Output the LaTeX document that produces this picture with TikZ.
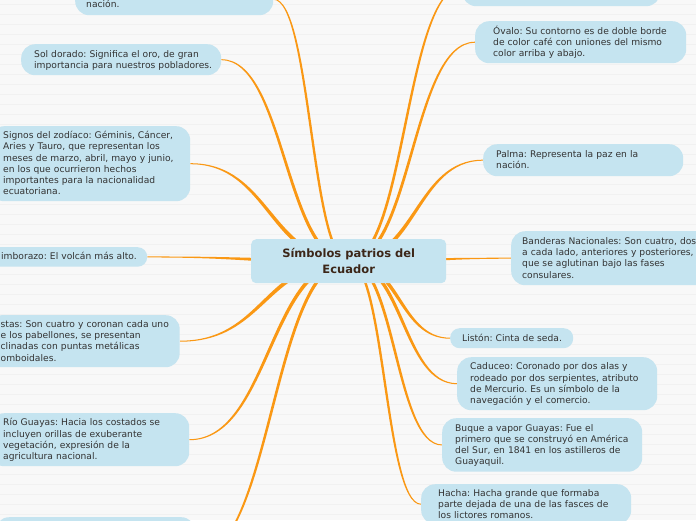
\documentclass[tikz,border=0pt]{standalone}
\usepackage{fontspec}
\setmainfont{DejaVu Sans}
\usetikzlibrary{calc}
\frenchspacing
\definecolor{bubble}{RGB}{197,228,240}
\definecolor{paper}{RGB}{248,248,248}
\definecolor{stripe}{RGB}{241,241,241}
\definecolor{orangeline}{RGB}{250,152,20}
\definecolor{txt}{RGB}{51,51,51}
\definecolor{titletxt}{RGB}{60,38,24}
\pgfdeclarelayer{paperlayer}
\pgfdeclarelayer{linklayer}
\pgfsetlayers{paperlayer,linklayer,main}
\newcommand{\mmline}[1]{\mbox{\rule[-2.4pt]{0pt}{10.8pt}#1}}
\newcommand{\mmlink}[2]{%
  \fill[orangeline] let \p1=(#1), \p2=(#2),
    \n1={-sign(\x2-\x1)*sign(\y2-\y1)},
    \n2={0.5*\x1+0.5*\x2} in
    (\x1,{\y1+2.2pt}) .. controls ({\n2*1pt+\n1*1.3pt},{\y1+2.2pt}) and ({\n2*1pt+\n1*1.3pt},{\y2+0.5pt}) .. (\x2,{\y2+0.5pt})
    -- (\x2,{\y2-0.5pt}) .. controls ({\n2*1pt-\n1*1.3pt},{\y2-0.5pt}) and ({\n2*1pt-\n1*1.3pt},{\y1-2.2pt}) .. (\x1,{\y1-2.2pt}) -- cycle;}
\begin{document}
\begin{tikzpicture}[x=1pt,y=-1pt,
  bub/.style={fill=bubble, draw=none, text=txt, align=left, inner ysep=0pt,
    anchor=north west, font=\fontsize{9.15}{11.2}\selectfont, rounded corners=14pt},
  geom/.style n args={3}{text width=#1pt, inner xsep=#2pt, minimum height=#3pt},
  pill/.style={rounded corners=9.5pt},
  hub/.style={fill=bubble, draw=none, text=titletxt, align=center, anchor=north west,
    minimum width=195pt, minimum height=44pt, inner sep=0pt, rounded corners=5pt,
    font=\fontsize{11.5}{15.5}\selectfont\bfseries}]
\useasboundingbox (0,0) rectangle (696,520);
\begin{pgfonlayer}{paperlayer}
\fill[paper] (0,0) rectangle (696,520);
\foreach \yy in {4,14,...,514} \draw[stripe, line width=1pt] (0,\yy) -- (696,\yy);
\end{pgfonlayer}

\node[hub] (hub) at (251,239) {Símbolos patrios del\\Ecuador};

\node[bub, geom={176}{11}{32}] (tl) at (75,-17) {\mmline{}\\\mmline{nación.}};
\node[bub, geom={174}{12}{38}] (tr) at (462,-32) {};
\node[bub, geom={174}{13}{31}] (sol) at (21,44) {\mmline{Sol dorado: Significa el oro, de gran}\\\mmline{importancia para nuestros pobladores.}};
\node[bub, geom={174}{13}{75}] (signos) at (-10,126) {\mmline{Signos del zodíaco: Géminis, Cáncer,}\\\mmline{Aries y Tauro, que representan los}\\\mmline{meses de marzo, abril, mayo y junio,}\\\mmline{en los que ocurrieron hechos}\\\mmline{importantes para la nacionalidad}\\\mmline{ecuatoriana.}};
\node[bub, pill, geom={133}{13}{19.5}] (chimb) at (-12,247) {\mmline{imborazo: El volcán más alto.}};
\node[bub, geom={166}{13}{52}] (astas) at (-12.5,315) {\mmline{stas: Son cuatro y coronan cada uno}\\\mmline{e los pabellones, se presentan}\\\mmline{clinadas con puntas metálicas}\\\mmline{omboidales.}};
\node[bub, geom={173}{13}{53}] (rio) at (-10,413) {\mmline{Río Guayas: Hacia los costados se}\\\mmline{incluyen orillas de exuberante}\\\mmline{vegetación, expresión de la}\\\mmline{agricultura nacional.}};
\node[bub, geom={174}{13}{80}] (bl) at (-5,517) {};

\node[bub, geom={175}{18}{42}] (ovalo) at (475,21) {\mmline{Óvalo: Su contorno es de doble borde}\\\mmline{de color café con uniones del mismo}\\\mmline{color arriba y abajo.}};
\node[bub, geom={174}{13}{32}] (palma) at (483,144) {\mmline{Palma: Representa la paz en la}\\\mmline{nación.}};
\node[bub, geom={178}{11}{54}] (banderas) at (511,231) {\mmline{Banderas Nacionales: Son cuatro, dos}\\\mmline{a cada lado, anteriores y posteriores,}\\\mmline{que se aglutinan bajo las fases}\\\mmline{consulares.}};
\node[bub, pill, geom={99}{12}{20}] (liston) at (450,328) {\mmline{Listón: Cinta de seda.}};
\node[bub, geom={174}{13}{53}] (caduceo) at (457,357) {\mmline{Caduceo: Coronado por dos alas y}\\\mmline{rodeado por dos serpientes, atributo}\\\mmline{de Mercurio. Es un símbolo de la}\\\mmline{navegación y el comercio.}};
\node[bub, geom={174}{13}{53.5}] (buque) at (442,418) {\mmline{Buque a vapor Guayas: Fue el}\\\mmline{primero que se construyó en América}\\\mmline{del Sur, en 1841 en los astilleros de}\\\mmline{Guayaquil.}};
\node[bub, geom={176}{17}{40}] (hacha) at (421,484) {\mmline{Hacha: Hacha grande que formaba}\\\mmline{parte dejada de una de las fasces de}\\\mmline{los lictores romanos.}};

\begin{pgfonlayer}{linklayer}
\mmlink{hub.center}{tl.east}
\mmlink{hub.center}{sol.east}
\mmlink{hub.center}{signos.east}
\mmlink{hub.center}{chimb.east}
\mmlink{hub.center}{astas.east}
\mmlink{hub.center}{rio.east}
\mmlink{hub.center}{bl.east}
\mmlink{hub.center}{tr.west}
\mmlink{hub.center}{ovalo.west}
\mmlink{hub.center}{palma.west}
\mmlink{hub.center}{banderas.west}
\mmlink{hub.center}{liston.west}
\mmlink{hub.center}{caduceo.west}
\mmlink{hub.center}{buque.west}
\mmlink{hub.center}{hacha.west}
\end{pgfonlayer}
\end{tikzpicture}
\end{document}
